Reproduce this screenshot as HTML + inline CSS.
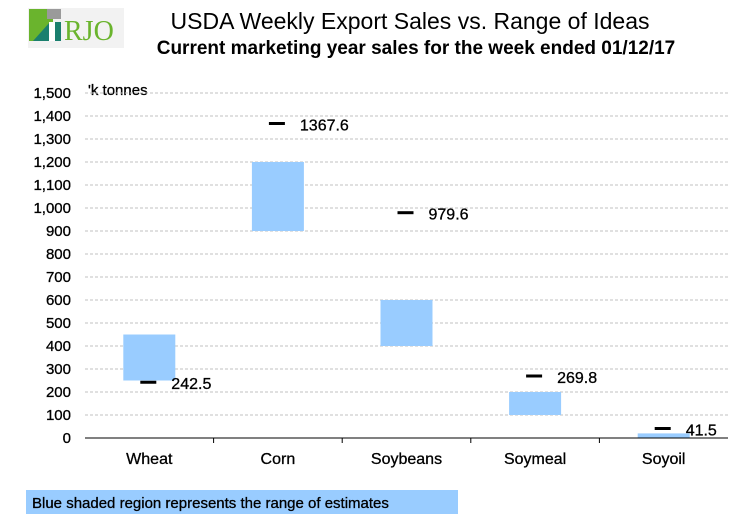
<!DOCTYPE html>
<html><head><meta charset="utf-8"><style>
body{margin:0;background:#fff;font-family:"Liberation Sans",Arial,sans-serif}
#c{position:relative;width:756px;height:516px;overflow:hidden}
</style></head><body>
<div id="c">
<svg width="756" height="516" id="svg">
<g>
<rect x="28" y="8" width="96" height="40" fill="#f2f2f2"/>
<rect x="29" y="9" width="24" height="32" fill="#6ab42d"/>
<rect x="47" y="9" width="14" height="10" fill="#9a9a9a"/>
<polygon points="33,41 50,22 61,22 61,41" fill="#1a7f6e"/>
<rect x="49" y="22" width="6" height="19" fill="#fff"/>
<text x="64" y="40" font-family="Liberation Serif,serif" font-size="28" fill="#6ab42d">RJO</text>
</g>
<text x="410" y="29" text-anchor="middle" font-size="23">USDA Weekly Export Sales vs. Range of Ideas</text>
<text x="416" y="54" text-anchor="middle" font-size="19" font-weight="bold">Current marketing year sales for the week ended 01/12/17</text>
<text x="88" y="95" font-size="15" stroke="#000" stroke-width="0.3">'k tonnes</text>
<g id="grid"></g><g id="bars"></g><g id="axes"></g>
<rect x="26" y="490" width="432" height="24" fill="#99ccff"/>
<text x="32" y="508" font-size="15" stroke="#000" stroke-width="0.3">Blue shaded region represents the range of estimates</text>
</svg></div>
<script>
const categories=["Wheat","Corn","Soybeans","Soymeal","Soyoil"];
const rangeLow=[250,900,400,100,0];
const rangeHigh=[450,1200,600,200,20];
const actual=[242.5,1367.6,979.6,269.8,41.5];
const actualLabels=["242.5","1367.6","979.6","269.8","41.5"];
const yTicks=[0,100,200,300,400,500,600,700,800,900,1000,1100,1200,1300,1400,1500];
const yTickLabels=["0","100","200","300","400","500","600","700","800","900","1,000","1,100","1,200","1,300","1,400","1,500"];
const NS="http://www.w3.org/2000/svg";
const x0=85,x1=728,y0=438,yTop=93,yMax=1500;
const bw=(x1-x0)/categories.length;
const y=v=>y0-(v/yMax)*(y0-yTop);
const xc=i=>x0+bw*(i+0.5);
function mk(t,a,p){const e=document.createElementNS(NS,t);for(const k in a)e.setAttribute(k,a[k]);p.appendChild(e);return e;}
const g=document.getElementById('grid'),b=document.getElementById('bars'),ax=document.getElementById('axes');
yTicks.forEach((v,i)=>{
 if(v>0){const l=mk('line',{x1:x0,x2:x1,y1:y(v),y2:y(v),stroke:'#c0c0c0','stroke-dasharray':'3,2'},g);
 
 }
 const t=mk('text',{x:x0-14,y:y(v)+5,'text-anchor':'end','font-size':15,stroke:'#000','stroke-width':0.3},ax);t.textContent=yTickLabels[i];
 
 
});
const xa=mk('line',{x1:x0,x2:x1,y1:y0,y2:y0,stroke:'#000'},ax);


for(let i=1;i<categories.length;i++){const t=mk('line',{x1:x0+bw*i,x2:x0+bw*i,y1:y0,y2:y0+5,stroke:'#000'},ax);
 
 }
categories.forEach((c,i)=>{
 const r=mk('rect',{x:xc(i)-26,width:52,y:y(rangeHigh[i]),height:y(rangeLow[i])-y(rangeHigh[i]),fill:'#99ccff'},b);
 
 
 const m=mk('line',{x1:xc(i)-9,x2:xc(i)+7,y1:y(actual[i]),y2:y(actual[i]),stroke:'#000','stroke-width':3},b);
 
 
 const lt=mk('text',{x:xc(i)+22,y:y(actual[i])+7,'font-size':16,stroke:'#000','stroke-width':0.3},b);lt.textContent=actualLabels[i];
 
 
 const ct=mk('text',{x:xc(i),y:464,'text-anchor':'middle','font-size':16,stroke:'#000','stroke-width':0.3},ax);ct.textContent=c;
 
 
});
</script></body></html>
